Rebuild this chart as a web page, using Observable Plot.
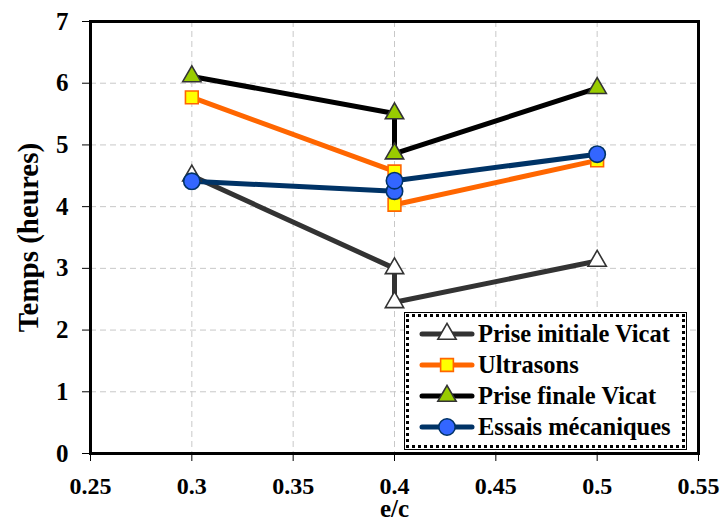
<!DOCTYPE html>
<html>
<head>
<meta charset="utf-8">
<script src="https://cdn.jsdelivr.net/npm/d3@7"></script>
<script src="https://cdn.jsdelivr.net/npm/@observablehq/plot@0.6"></script>
<style>
  html, body { margin: 0; padding: 0; background: #fff; }
  #wrap { position: relative; width: 721px; height: 529px; font-family: 'Liberation Serif', serif; }
  #wrap svg, #wrap svg text { font-family: 'Liberation Serif', serif; }
  #legend { position: absolute; left: 404px; top: 312px; width: 283px; height: 138px; border: 1px solid #000; background: #fff; box-sizing: border-box; }
  #legend .inner { position: absolute; left: 1px; top: 1px; right: 1px; bottom: 1px; border: 3px dotted #000; }
  #legend .row { position: absolute; left: 14px; height: 30px; display: flex; align-items: center; font-weight: bold; font-size: 24.5px; color: #000; white-space: nowrap; }
  #legend svg { margin-right: 3px; }
</style>
</head>
<body>
<div id="wrap"></div>
<script>
const seriesNames = ["Prise initiale Vicat", "Ultrasons", "Prise finale Vicat", "Essais mécaniques"];
const ec = [0.3, 0.4, 0.4, 0.5];
const priseInitiale = [4.50, 3.00, 2.45, 3.12];
const ultrasons = [5.77, 4.57, 4.03, 4.75];
const priseFinale = [6.11, 5.51, 4.86, 5.92];
const essais = [4.41, 4.25, 4.42, 4.85];
const xTicks = [0.25, 0.3, 0.35, 0.4, 0.45, 0.5, 0.55];
const yTicks = [0, 1, 2, 3, 4, 5, 6, 7];

const styles = [
  {line: "#333333", fill: "#ffffff", mstroke: "#333333", symbol: "triangle", r: 6.8},
  {line: "#ff6600", fill: "#ffff00", mstroke: "#ff6600", symbol: "square", r: 7.2},
  {line: "#000000", fill: "#99cc00", mstroke: "#333333", symbol: "triangle", r: 6.8},
  {line: "#003366", fill: "#3366ff", mstroke: "#003366", symbol: "circle", r: 8.2}
];
const values = [priseInitiale, ultrasons, priseFinale, essais];

const marks = [
  Plot.gridY(yTicks.filter(d => d > 0 && d < 7), {stroke: "#c8c8c8", strokeOpacity: 1, strokeDasharray: "6,4", strokeWidth: 1}),
  Plot.gridX(xTicks.filter(d => d > 0.25 && d < 0.55), {stroke: "#c8c8c8", strokeOpacity: 1, strokeDasharray: "6,4", strokeWidth: 1}),
  Plot.axisY(yTicks, {tickSize: 8, tickPadding: 14, label: null, fontSize: 25, fontWeight: "bold", tickFormat: d => String(d)}),
  Plot.axisX(xTicks, {tickSize: 8, tickPadding: 15, label: null, fontSize: 24, fontWeight: "bold", tickFormat: d => String(d)})
];
values.forEach((vals, i) => {
  const data = ec.map((x, j) => ({x, y: vals[j]}));
  const s = styles[i];
  marks.push(Plot.line(data, {x: "x", y: "y", stroke: s.line, strokeWidth: 5, strokeLinejoin: "miter", curve: "linear"}));
});
values.forEach((vals, i) => {
  const data = ec.map((x, j) => ({x, y: vals[j]}));
  const s = styles[i];
  marks.push(Plot.dot(data, {x: "x", y: "y", symbol: () => s.symbol, r: s.r, fill: s.fill, stroke: s.mstroke, strokeWidth: 1.6}));
});
marks.push(Plot.frame({stroke: "#000", strokeWidth: 3}));
marks.push(Plot.text(["Temps (heures)"], {frameAnchor: "left", textAnchor: "middle", dx: -62, rotate: -90, fontSize: 29, fontWeight: "bold", fill: "#000"}));
marks.push(Plot.text(["e/c"], {frameAnchor: "bottom", textAnchor: "middle", dy: 63, fontSize: 25, fontWeight: "bold", fill: "#000"}));

const chart = Plot.plot({
  width: 721,
  height: 529,
  marginLeft: 90,
  marginRight: 23,
  marginTop: 21,
  marginBottom: 76,
  style: {fontFamily: "'Liberation Serif', serif", background: "#fff", color: "#000"},
  x: {domain: [0.25, 0.55]},
  y: {domain: [0, 7]},
  symbol: {type: "identity"},
  marks
});
const wrap = document.getElementById("wrap");
wrap.appendChild(chart);

// legend
const legend = document.createElement("div");
legend.id = "legend";
legend.innerHTML = '<div class="inner"></div>';
seriesNames.forEach((name, i) => {
  const s = styles[i];
  const row = document.createElement("div");
  row.className = "row";
  row.style.top = (6 + i * 31) + "px";
  const sym = d3.symbol().type(s.symbol === "triangle" ? d3.symbolTriangle : s.symbol === "square" ? d3.symbolSquare : d3.symbolCircle).size(Math.PI * s.r * s.r)();
  row.innerHTML = `<svg width="56" height="24" viewBox="0 0 56 24"><line x1="3" x2="53" y1="12" y2="12" stroke="${s.line}" stroke-width="5" stroke-linecap="round"/><path transform="translate(28,12)" d="${sym}" fill="${s.fill}" stroke="${s.mstroke}" stroke-width="1.6"/></svg><span>${name}</span>`;
  legend.appendChild(row);
});
wrap.appendChild(legend);
</script>
</body>
</html>
